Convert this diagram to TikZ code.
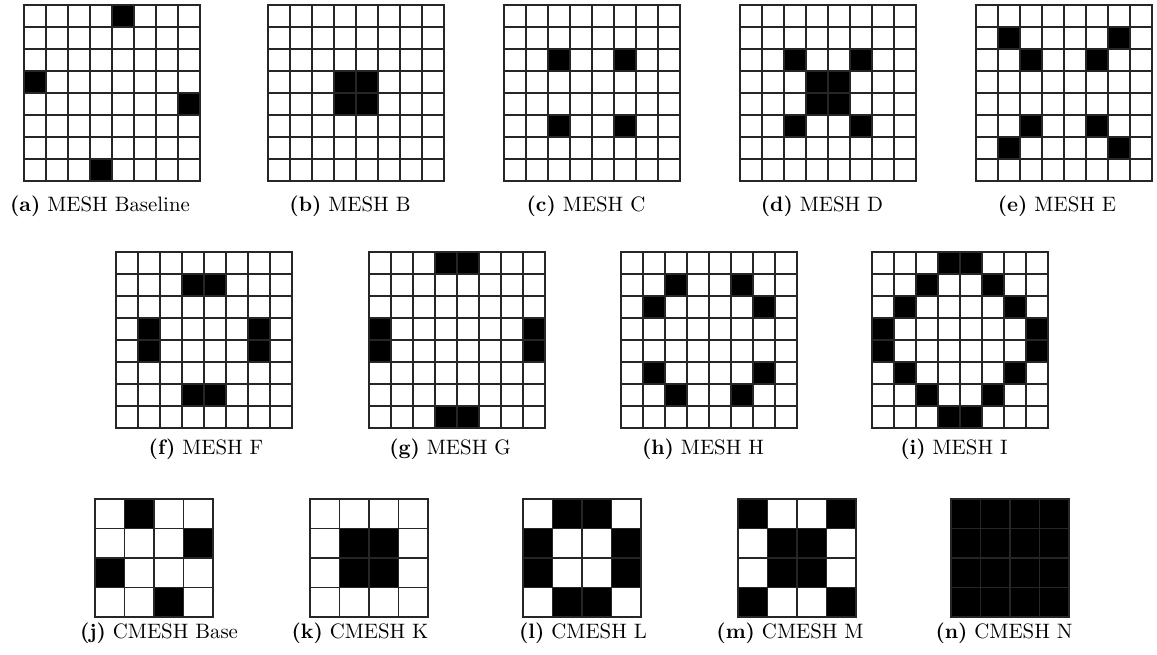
\documentclass[tikz,border=0pt]{standalone}
\usepackage{tikz}

% one mesh: left, top, cells per side, cell size, black cells as row/col
\newcommand{\meshgrid}[5]{%
  \foreach \r/\c in {#5} {
    \fill[cellon] ({#1+\c*#4},{#2+\r*#4}) rectangle ++(#4,#4);
  }
  \foreach \k in {0,...,#3} {
    \draw[meshline] ({#1+\k*#4},#2) -- ++(0,{#3*#4});
    \draw[meshline] (#1,{#2+\k*#4}) -- ++({#3*#4},0);
  }
}

\begin{document}
\begin{tikzpicture}[
  x=0.48pt, y=-0.48pt,
  font=\normalsize,
  cellon/.style={fill=black},
  meshline/.style={line width=0.8pt, draw=black!85, line cap=rect},
  subcap/.style={anchor=base, inner sep=0pt},
]
\useasboundingbox (0,0) rectangle (1157,655);
% ---- first row: 8x8 meshes ----
\meshgrid{24}{5}{8}{22}{0/4, 3/0, 4/7, 7/3}
\meshgrid{268}{5}{8}{22}{3/3, 3/4, 4/3, 4/4}
\meshgrid{504}{5}{8}{22}{2/2, 2/5, 5/2, 5/5}
\meshgrid{740}{5}{8}{22}{2/2, 2/5, 3/3, 3/4, 4/3, 4/4, 5/2, 5/5}
\meshgrid{976}{5}{8}{22}{1/1, 1/6, 2/2, 2/5, 5/2, 5/5, 6/1, 6/6}
\node[subcap] (capa) at (100,212) {\textbf{(a)}~MESH Baseline};
\node[subcap] (capb) at (350,212) {\textbf{(b)}~MESH B};
\node[subcap] (capc) at (586,212) {\textbf{(c)}~MESH C};
\node[subcap] (capd) at (822,212) {\textbf{(d)}~MESH D};
\node[subcap] (cape) at (1057,212) {\textbf{(e)}~MESH E};
% ---- second row: 8x8 meshes ----
\meshgrid{116}{252}{8}{22}{1/3, 1/4, 3/1, 4/1, 3/6, 4/6, 6/3, 6/4}
\meshgrid{369}{252}{8}{22}{0/3, 0/4, 3/0, 4/0, 3/7, 4/7, 7/3, 7/4}
\meshgrid{621}{252}{8}{22}{1/2, 1/5, 2/1, 2/6, 5/1, 5/6, 6/2, 6/5}
\meshgrid{872}{252}{8}{22}{0/3, 0/4, 1/2, 1/5, 2/1, 2/6, 3/0, 3/7,
                          4/0, 4/7, 5/1, 5/6, 6/2, 6/5, 7/3, 7/4}
\node[subcap] (capf) at (206,454) {\textbf{(f)}~MESH F};
\node[subcap] (capg) at (450,454) {\textbf{(g)}~MESH G};
\node[subcap] (caph) at (703,454) {\textbf{(h)}~MESH H};
\node[subcap] (capi) at (954,454) {\textbf{(i)}~MESH I};
% ---- third row: 4x4 meshes ----
\meshgrid{95}{499}{4}{29.5}{0/1, 1/3, 2/0, 3/2}
\meshgrid{310}{499}{4}{29.5}{1/1, 1/2, 2/1, 2/2}
\meshgrid{523}{499}{4}{29.5}{0/1, 0/2, 1/0, 1/3, 2/0, 2/3, 3/1, 3/2}
\meshgrid{738}{499}{4}{29.5}{0/0, 0/3, 1/1, 1/2, 2/1, 2/2, 3/0, 3/3}
\meshgrid{951}{499}{4}{29.5}{0/0, 0/1, 0/2, 0/3, 1/0, 1/1, 1/2, 1/3,
                            2/0, 2/1, 2/2, 2/3, 3/0, 3/1, 3/2, 3/3}
\node[subcap] (capj) at (159,638) {\textbf{(j)}~CMESH Base};
\node[subcap] (capk) at (360,638) {\textbf{(k)}~CMESH K};
\node[subcap] (capl) at (583,638) {\textbf{(l)}~CMESH L};
\node[subcap] (capm) at (790,638) {\textbf{(m)}~CMESH M};
\node[subcap] (capn) at (1004,638) {\textbf{(n)}~CMESH N};
\end{tikzpicture}
\end{document}
